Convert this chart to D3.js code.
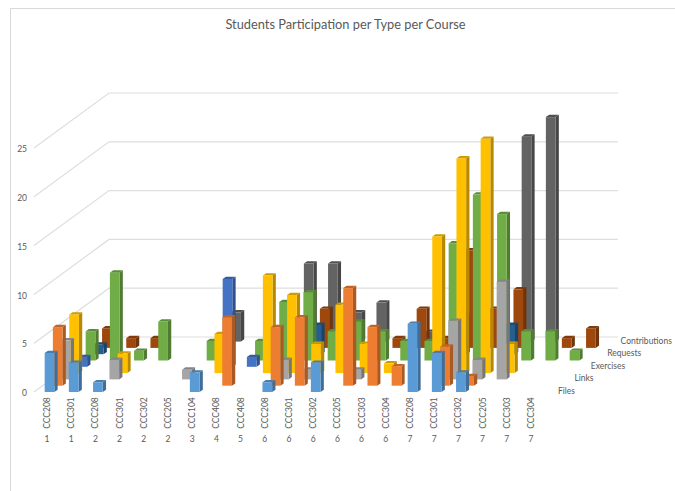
<!DOCTYPE html>
<html>
<head>
<meta charset="utf-8">
<script src="https://cdn.jsdelivr.net/npm/d3@7"></script>
<style>
  html, body { margin: 0; padding: 0; background: #fff; }
  text { font-family: Lato, sans-serif; fill: #595959; }
</style>
</head>
<body>
<div id="chart"></div>
<script>
const courses = ["CCC208","CCC301","CCC208","CCC301","CCC302","CCC205","CCC104","CCC408","CCC408","CCC208","CCC301","CCC302","CCC205","CCC303","CCC304","CCC208","CCC301","CCC302","CCC205","CCC303","CCC304"];
const semesters = [1,1,2,2,2,2,3,4,5,6,6,6,6,6,6,7,7,7,7,7,7];
const valueTicks = [0,5,10,15,20,25];

// every second series gets a label on the depth axis
const seriesLabels = ["Files","","Links","","Exercises","","Requests","","Contributions"];
const seriesColors = ["#5B9BD5","#ED7D31","#A5A5A5","#FFC000","#4472C4","#70AD47","#255E91","#9E480E","#636363"];

const files    = [4,3,1,0,0,0,2,0,0,1,0,3,0,0,0,7,4,2,0,0,0];
const orange   = [6,0,0,0,0,0,0,7,0,6,7,0,10,6,2,0,4,1,0,0,0];
const links    = [4,0,2,0,0,1,0,0,0,2,1,0,1,0,0,0,6,2,10,0,0];
const yellow   = [6,0,2,0,0,0,4,0,10,8,3,7,3,1,0,14,22,24,3,0,0];
const blue     = [1,0,0,0,0,0,9,1,0,0,0,0,0,0,0,0,0,0,0,0,0];
const exercises = [3,9,1,4,0,2,0,2,6,7,3,4,3,2,2,12,17,15,3,3,1];
const navy     = [1,0,0,0,0,0,0,0,0,3,0,0,0,0,0,4,0,3,0,0,0];
const requests = [2,1,1,0,0,0,0,0,0,4,0,0,1,4,1,10,4,6,0,1,2];
const contributions = [0,0,0,0,0,3,0,0,8,8,3,4,0,1,0,0,0,21,23,0,0];

const allSeries = [files, orange, links, yellow, blue, exercises, navy, requests, contributions];

const width = 675, height = 491;
const labelSize = "8.5px";

const svg = d3.select("#chart").append("svg")
  .attr("width", width)
  .attr("height", height)
  .style("display", "block");

// outer frame, only top and left show
svg.append("path")
  .attr("d", `M10.5,${height} V8.5 H${width}`)
  .attr("fill", "none")
  .attr("stroke", "#D9D9D9");

svg.append("text")
  .text("Students Participation per Type per Course")
  .attr("x", 345.5)
  .attr("y", 29)
  .attr("text-anchor", "middle")
  .style("font-size", "12.8px");

const x = d3.scaleBand()
  .domain(d3.range(courses.length))
  .range([34, 34 + 24.2 * courses.length])
  .paddingInner(0.6)
  .paddingOuter(0.3);

const y = d3.scaleLinear()
  .domain([0, 25])
  .range([392, 148]);

// shift of each series going back into the chart
const depthX = d3.scalePoint().domain(d3.range(allSeries.length)).range([0, 65.6]);
const depthY = d3.scalePoint().domain(d3.range(allSeries.length)).range([0, -50.4]);

const wallDx = 75, wallDy = -55;
const wallRight = 618;
const frontGap = 3.4;
const sideDx = 3.3, topDy = -2.3;

// gridlines on the side and back walls
const grid = svg.append("g")
  .attr("fill", "none")
  .attr("stroke", "#DEDEDE")
  .attr("stroke-width", 1.2);

grid.selectAll("path")
  .data(valueTicks)
  .join("path")
  .attr("d", d => `M34,${y(d)} L${34 + wallDx},${y(d) + wallDy} H${wallRight}`);

const yAxis = d3.axisLeft(y).tickValues(valueTicks).tickSize(0).tickPadding(0);

svg.append("g")
  .attr("transform", "translate(27,1)")
  .call(yAxis)
  .call(g => g.select(".domain").remove())
  .selectAll("text")
  .style("font-size", labelSize)
  .style("font-family", "Lato, sans-serif");

// back series first so the front ones paint over them
const order = d3.range(allSeries.length).reverse();

const bars = [];
order.forEach(s => {
  allSeries[s].forEach((v, i) => {
    if (v > 0) bars.push({ s, i, v });
  });
});

const barG = svg.selectAll("g.bar")
  .data(bars)
  .join("g")
  .attr("class", "bar");

const barLeft = d => x(d.i) + frontGap + depthX(d.s);
const barRight = d => barLeft(d) + x.bandwidth();
const barTop = d => y(d.v) + depthY(d.s);
const barBottom = d => y(0) + depthY(d.s);

// side face
barG.append("polygon")
  .attr("points", d => [
    [barRight(d), barTop(d)],
    [barRight(d) + sideDx, barTop(d) + topDy],
    [barRight(d) + sideDx, barBottom(d) + topDy],
    [barRight(d), barBottom(d)]
  ].join(" "))
  .attr("fill", d => d3.color(seriesColors[d.s]).darker(0.95));

// top face
barG.append("polygon")
  .attr("points", d => [
    [barLeft(d), barTop(d)],
    [barLeft(d) + sideDx, barTop(d) + topDy],
    [barRight(d) + sideDx, barTop(d) + topDy],
    [barRight(d), barTop(d)]
  ].join(" "))
  .attr("fill", d => d3.color(seriesColors[d.s]).darker(0.6));

// front face
barG.append("rect")
  .attr("x", barLeft)
  .attr("y", barTop)
  .attr("width", x.bandwidth())
  .attr("height", d => barBottom(d) - barTop(d))
  .attr("fill", d => seriesColors[d.s]);

// course names, rotated, with the semester under each one
const labelX = i => x(i) + 5.7;

svg.selectAll("text.course")
  .data(courses)
  .join("text")
  .attr("class", "course")
  .text(d => d)
  .attr("transform", (d, i) => `translate(${labelX(i) + 3},413) rotate(-90)`)
  .attr("text-anchor", "middle")
  .style("font-size", labelSize);

svg.selectAll("text.semester")
  .data(semesters)
  .join("text")
  .attr("class", "semester")
  .text(d => d)
  .attr("x", (d, i) => labelX(i))
  .attr("y", 442)
  .attr("text-anchor", "middle")
  .style("font-size", labelSize);

// depth axis labels beside the floor
svg.selectAll("text.series")
  .data(seriesLabels)
  .join("text")
  .attr("class", "series")
  .text(d => d)
  .attr("x", (d, i) => 558 + depthX(i) - (i === 8 ? 3 : 0))
  .attr("y", (d, i) => 394 + depthY(i))
  .style("font-size", labelSize);
</script>
</body>
</html>
